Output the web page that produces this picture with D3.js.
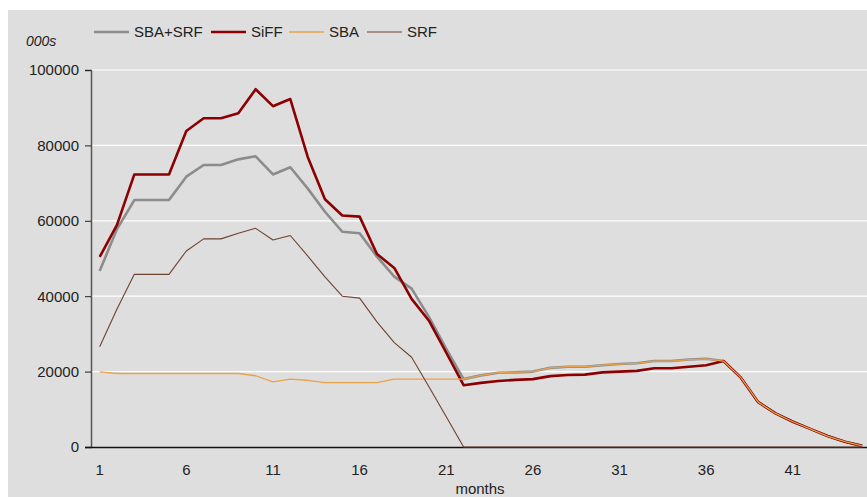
<!DOCTYPE html>
<html>
<head>
<meta charset="utf-8">
<script src="https://cdn.jsdelivr.net/npm/d3@7"></script>
<style>
body { margin: 0; background: #fff; }
svg { display: block; }
text { font-family: "Liberation Sans", Arial, sans-serif; fill: #222; }
</style>
</head>
<body>
<svg id="chart"></svg>
<script>
var width = 867;
var height = 497;

// months 1..45
var months = d3.range(1, 46);
var tickMonths = [1, 6, 11, 16, 21, 26, 31, 36, 41];
var yTicks = [0, 20000, 40000, 60000, 80000, 100000];

// values in 000s
var sbaSrf = [46700, 57800, 65500, 65500, 65500, 71700, 74800, 74800, 76300, 77100,
    72300, 74200, 68600, 62400, 57100, 56700, 50500, 45200, 42000, 34500,
    26000, 18000, 19000, 19700, 19800, 20000, 21000, 21300, 21300, 21700,
    22000, 22200, 22800, 22800, 23200, 23400, 22800, 18400, 11900, 8900,
    6700, 4800, 2900, 1400, 300];
var siff = [50400, 58900, 72300, 72300, 72300, 83800, 87200, 87200, 88500, 94900,
    90400, 92300, 77000, 65700, 61400, 61100, 51200, 47500, 39300, 33500,
    25000, 16400, 17000, 17500, 17800, 18000, 18800, 19100, 19200, 19800,
    20000, 20200, 20900, 20900, 21300, 21700, 22800, 18400, 11900, 8900,
    6700, 4800, 2900, 1400, 300];
var sba = [19900, 19500, 19500, 19500, 19500, 19500, 19500, 19500, 19500, 18900,
    17300, 18000, 17700, 17100, 17100, 17100, 17100, 18000, 18000, 18000,
    18000, 18000, 19000, 19700, 19800, 20000, 21000, 21300, 21300, 21700,
    22000, 22200, 22800, 22800, 23200, 23400, 22800, 18400, 11900, 8900,
    6700, 4800, 2900, 1400, 300];
var srf = [26600, 36600, 45800, 45800, 45800, 52000, 55200, 55200, 56700, 58000,
    54900, 56100, 50700, 45100, 40000, 39500, 33200, 27700, 23800, 16000,
    8000, 0, 0, 0, 0, 0, 0, 0, 0, 0,
    0, 0, 0, 0, 0, 0, 0, 0, 0, 0,
    0, 0, 0, 0, 0];

var seriesNames = ["SBA+SRF", "SiFF", "SBA", "SRF"];
var seriesValues = [sbaSrf, siff, sba, srf];
var seriesColors = ["#8c8c8c", "#8b0000", "#e9a24a", "#6e4330"];
var seriesWidths = [2.6, 2.6, 1.3, 1.1];

var margin = {left: 91, top: 70, bottom: 50};

var svg = d3.select("#chart").attr("width", width).attr("height", height);

svg.append("rect")
    .attr("x", 8).attr("y", 10)
    .attr("width", width - 8).attr("height", height - 10)
    .attr("fill", "#dedede");

var x = d3.scaleBand()
    .domain(months)
    .range([margin.left, margin.left + 17.33 * months.length]);
var xc = d => x(d) + x.bandwidth() / 2;

var y = d3.scaleLinear()
    .domain([0, 100000])
    .range([height - margin.bottom, margin.top]);

// gridlines
svg.append("g").selectAll("line")
    .data(yTicks.filter(d => d > 0))
    .enter().append("line")
    .attr("x1", margin.left).attr("x2", width)
    .attr("y1", d => y(d)).attr("y2", d => y(d))
    .attr("stroke", "#fff").attr("stroke-width", 1.2);

// y axis
var yAxis = svg.append("g")
    .attr("transform", "translate(" + margin.left + ",0)")
    .call(d3.axisLeft(y).tickValues(yTicks).tickSize(6).tickPadding(6).tickFormat(d3.format("d")));
yAxis.select(".domain").attr("stroke", "#555").attr("stroke-width", 1.5);
yAxis.selectAll(".tick line").attr("stroke", "#222");
yAxis.selectAll("text")
    .style("font-size", "15px")
    .style("font-family", "Liberation Sans, Arial, sans-serif")
    .attr("fill", "#222");

// x axis
var xAxis = svg.append("g")
    .attr("transform", "translate(0," + y(0) + ")")
    .call(d3.axisBottom(x).tickValues(tickMonths).tickSize(0).tickPadding(17));
xAxis.select(".domain").attr("d", "M" + (margin.left - 6) + ",0.5H" + width)
    .attr("stroke", "#111").attr("stroke-width", 1.5);
xAxis.selectAll("text")
    .style("font-size", "15px")
    .style("font-family", "Liberation Sans, Arial, sans-serif")
    .attr("fill", "#222");

svg.append("text")
    .attr("x", 480).attr("y", 494)
    .attr("text-anchor", "middle")
    .style("font-size", "15px")
    .text("months");

svg.append("text")
    .attr("x", 26).attr("y", 46)
    .style("font-size", "14px")
    .style("font-style", "italic")
    .text("000s");

// lines
var line = d3.line()
    .x((d, i) => xc(months[i]))
    .y(d => y(d));

svg.append("g").selectAll("path")
    .data(seriesValues)
    .enter().append("path")
    .attr("d", d => line(d))
    .attr("fill", "none")
    .attr("stroke", (d, i) => seriesColors[i])
    .attr("stroke-width", (d, i) => seriesWidths[i])
    .attr("stroke-linejoin", "round");

// legend
var legendX = [94, 211, 289, 367];
var legend = svg.append("g").selectAll("g")
    .data(seriesNames)
    .enter().append("g")
    .attr("transform", (d, i) => "translate(" + legendX[i] + ",32)");
legend.append("line")
    .attr("x1", 0).attr("x2", 35)
    .attr("stroke", (d, i) => seriesColors[i])
    .attr("stroke-width", (d, i) => seriesWidths[i]);
legend.append("text")
    .attr("x", 40).attr("y", 5)
    .style("font-size", "15px")
    .text(d => d);
</script>
</body>
</html>
